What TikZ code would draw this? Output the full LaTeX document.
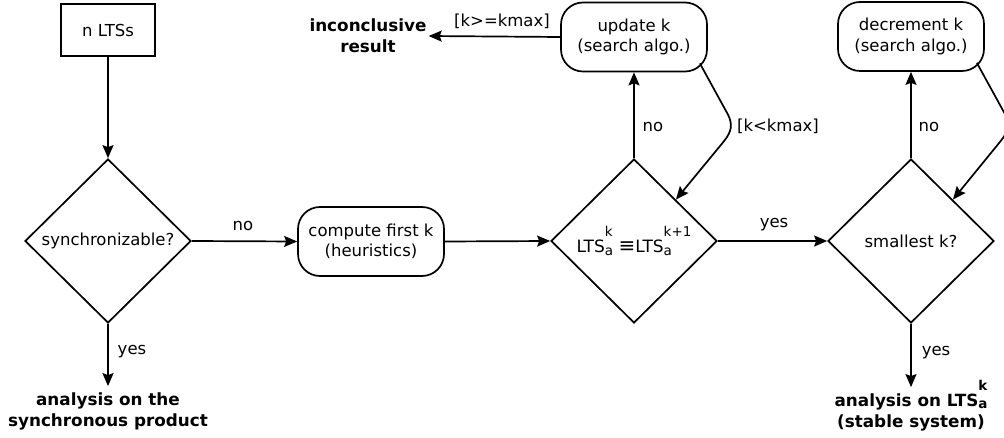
\documentclass[tikz,border=0pt]{standalone}
\usepackage{fontspec}
\setmainfont{DejaVu Sans}
\usetikzlibrary{shapes.geometric,arrows.meta,calc}
\newcommand{\ltsx}[2]{LTS\rlap{\raisebox{-0.15em}{\fontsize{13.5}{13.5}\selectfont #1}}\raisebox{0.95em}{\fontsize{13.5}{13.5}\selectfont #2}}
\begin{document}
\begin{tikzpicture}[x=1pt,y=-1pt,
  every node/.style={font=\fontsize{16.5}{20.5}\selectfont},
  ln/.style={line width=1.7pt},
  arr/.style={ln,-{Stealth[length=13pt,width=11pt,inset=2pt]}},
  box/.style={draw,ln,minimum width=94pt,minimum height=52pt,inner sep=0pt},
  proc/.style={draw,ln,rounded corners=22pt,minimum width=146pt,minimum height=69pt,align=center,inner sep=0pt},
  dec/.style={draw,ln,diamond,minimum width=166pt,minimum height=164pt,inner sep=0pt},
  lbl/.style={inner sep=0pt},
  res/.style={font=\bfseries\fontsize{16.8}{21}\selectfont,align=center,inner xsep=2pt,inner ysep=6pt}]
\useasboundingbox (0,0) rectangle (1004,438);
\clip (0,0) rectangle (1004,438);
\node[box] (lts) at (108,30) {n LTSs};
\node[dec] (d1) at (108,241) {synchronizable?};
\node[proc] (cfk) at (371,241.5) {compute first k\\(heuristics)};
\node[dec] (d2) at (634,241) {\fontsize{17}{20}\selectfont\ltsx{a}{k}\hspace{0.35em}{\fontsize{20}{20}\selectfont ≡}\ltsx{a}{k+1}};
\node[proc] (upd) at (634,37) {update k\\(search algo.)};
\node[proc] (dk) at (911,36.5) {decrement k\\(search algo.)};
\node[dec] (d3) at (911,241) {smallest k?};
\node[res] (r1) at (108,411) {analysis on the\\synchronous product};
\node[res,inner ysep=2pt] (inc) at (368,36) {inconclusive\\result};
\node[res] (r2) at (911,412) {analysis on \smash{\ltsx{a}{k}}\\(stable system)};
% connectors
\draw[arr] (lts.south) -- (d1.north);
\draw[arr] (d1.east) -- (cfk.west);
\draw[arr] (cfk.east) -- (d2.west);
\draw[arr] (d2.north) -- (upd.south);
\draw[arr] (upd.west) -- (inc.east);
\draw[arr] ($(upd.south east)+(-8,-9)$) -- ++(28,51) .. controls +(5,10) and +(8,-10) .. ++(-4,27) -- (d2.north east);
\draw[arr] (d2.east) -- (d3.west);
\draw[arr] (d3.north) -- (dk.south);
\draw[arr] ($(dk.south east)+(-8,-9)$) -- ++(28,51) .. controls +(5,10) and +(8,-10) .. ++(-4,27) -- (d3.north east);
\draw[arr] (d3.south) -- (r2.north);
\draw[arr] (d1.south) -- (r1.north);
% labels
\node[lbl] (l1) at (243,226) {no};
\node[lbl] (l2) at (653,127) {no};
\node[lbl] (l3) at (502,21) {[k>=kmax]};
\node[lbl] (l4) at (778,126) {[k<kmax]};
\node[lbl] (l5) at (774,225) {yes};
\node[lbl] (l6) at (929,127) {no};
\node[lbl] (l7) at (936,353) {yes};
\node[lbl] (l8) at (132,352) {yes};
\end{tikzpicture}
\end{document}
